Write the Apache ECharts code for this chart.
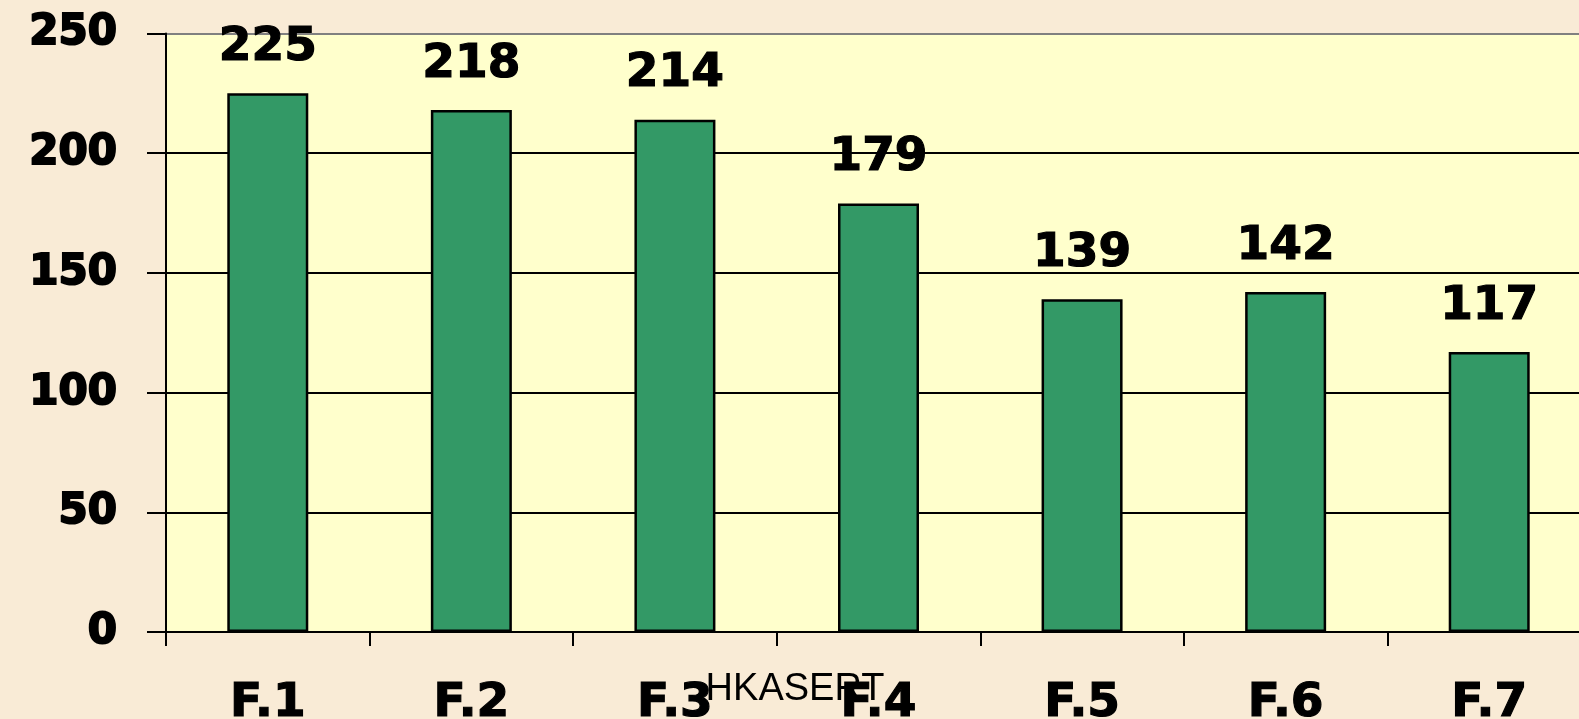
<!DOCTYPE html>
<html>
<head>
<meta charset="utf-8">
<script src="https://cdn.jsdelivr.net/npm/echarts@6/dist/echarts.min.js"></script>
<style>
  html, body { margin: 0; padding: 0; background: #f9ebd6; }
  #main { width: 1579px; height: 719px; }
</style>
</head>
<body>
<div id="main"></div>
<script>
// 数据
var categories = ['F.1', 'F.2', 'F.3', 'F.4', 'F.5', 'F.6', 'F.7'];
var values = [225, 218, 214, 179, 139, 142, 117];
var yTicks = [0, 50, 100, 150, 200, 250];

var myChart = echarts.init(document.getElementById('main'));

// 粗体字样式
var boldText = {
    color: '#000',
    fontFamily: 'DejaVu Sans',
    fontWeight: 'bold',
    textBorderColor: '#000',
    textBorderWidth: 1.2
};

var option = {
    backgroundColor: '#f9ebd6',
    animation: false,
    grid: {
        left: 166,
        top: 33.5,
        bottom: 87,
        right: -12,
        outerBoundsMode: 'none',
        containLabel: false,
        show: true,
        backgroundColor: '#ffffcc',
        borderWidth: 0
    },
    xAxis: {
        type: 'category',
        data: categories,
        axisLine: { lineStyle: { color: '#000', width: 2 } },
        axisTick: { show: true, length: 14, lineStyle: { color: '#000', width: 2 } },
        axisLabel: Object.assign({ margin: 48, fontSize: 47 }, boldText)
    },
    yAxis: {
        type: 'value',
        min: yTicks[0],
        max: yTicks[yTicks.length - 1],
        interval: 50,
        axisLine: { show: true, lineStyle: { color: '#000', width: 2 } },
        axisTick: { show: true, length: 19, lineStyle: { color: '#000', width: 2 } },
        axisLabel: Object.assign({}, boldText, { margin: 49, fontSize: 42, textBorderWidth: 2 }),
        splitLine: {
            show: true,
            lineStyle: {
                color: ['#000', '#000', '#000', '#000', '#000', '#808080'],
                width: 2
            }
        }
    },
    series: [{
        type: 'bar',
        data: values,
        barWidth: 81,
        itemStyle: {
            color: '#339966',
            borderColor: '#000',
            borderWidth: 2.5
        },
        label: Object.assign({
            show: true,
            position: 'top',
            distance: 22,
            fontSize: 47
        }, boldText)
    }],
    graphic: [{
        type: 'text',
        z: 100,
        style: {
            x: 795,
            y: 690,
            text: 'HKASERT',
            align: 'center',
            verticalAlign: 'middle',
            fill: '#000',
            fontFamily: 'Liberation Sans',
            fontSize: 38
        }
    }]
};

myChart.setOption(option);
</script>
</body>
</html>
